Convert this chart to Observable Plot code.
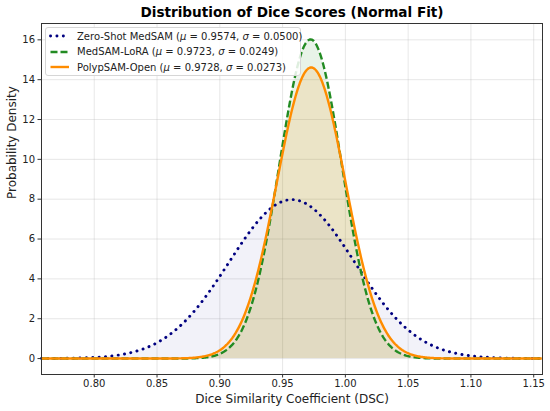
<!DOCTYPE html>
<html>
<head>
<meta charset="utf-8">
<script src="https://cdn.jsdelivr.net/npm/d3@7"></script>
<script src="https://cdn.jsdelivr.net/npm/@observablehq/plot@0.6"></script>
<style>
  html, body { margin: 0; padding: 0; background: #fff; }
  #wrap { position: relative; width: 550px; height: 411px; font-family: "DejaVu Sans", sans-serif; }
  #legend { position: absolute; left: 45px; top: 27px; width: 256px; height: 49px;
    background: rgba(255,255,255,0.85); border: 1px solid #d6d6d6; border-radius: 3px;
    box-sizing: border-box; font-size: 10px; color: #222; }
  .row { position: absolute; left: 0; height: 14px; display: flex; align-items: center; white-space: nowrap; }
  .row svg { margin-left: 3px; margin-right: 7px; }
</style>
</head>
<body>
<div id="wrap">
  <div id="chart"></div>
  <div id="legend"></div>
</div>
<script>
const names  = ["Zero-Shot MedSAM", "MedSAM-LoRA", "PolypSAM-Open"];
const mus    = [0.9574, 0.9723, 0.9728];
const sigmas = [0.0500, 0.0249, 0.0273];
const colors = ["#000080", "#228b22", "#ff8c00"];
const fillOpacities = [0.05, 0.10, 0.14];
const dashes = ["0.1,6.3", "7,3", null];
const caps = ["round", "butt", "butt"];
const widths = [2.9, 2.4, 2.4];
const xTicks = [0.80, 0.85, 0.90, 0.95, 1.00, 1.05, 1.10, 1.15];
const yTicks = [0, 2, 4, 6, 8, 10, 12, 14, 16];

const xDomain = [0.758, 1.157];
const xs = d3.range(xDomain[0], xDomain[1] + 1e-9, 0.0008);
const pdf = (x, m, s) => Math.exp(-0.5 * ((x - m) / s) ** 2) / (s * Math.sqrt(2 * Math.PI));
const series = names.map((name, i) => xs.map(x => ({name, x, y: pdf(x, mus[i], sigmas[i])})));

const marks = [
  Plot.gridX(xTicks, {stroke: "#b0b0b0", strokeOpacity: 0.3}),
  Plot.gridY(yTicks, {stroke: "#b0b0b0", strokeOpacity: 0.3}),
];
series.forEach((d, i) => marks.push(Plot.areaY(d, {x: "x", y1: 0, y2: "y", fill: colors[i], fillOpacity: fillOpacities[i]})));
series.forEach((d, i) => marks.push(Plot.lineY(d, {x: "x", y: "y", stroke: colors[i], strokeWidth: widths[i],
  strokeDasharray: dashes[i] || undefined, strokeLinecap: caps[i]})));
marks.push(
  Plot.frame({stroke: "#333", strokeWidth: 1}),
  Plot.axisX(xTicks, {tickFormat: d3.format(".2f"), tickSize: 3.5, tickPadding: 2, fontSize: 10, label: null, stroke: "#333", color: "#222"}),
  Plot.axisY(yTicks, {tickSize: 3.5, tickPadding: 3, fontSize: 10, label: null, stroke: "#333", color: "#222"}),
  Plot.text(["Distribution of Dice Scores (Normal Fit)"], {frameAnchor: "top", dy: -11, fontSize: 13.6, fontWeight: "bold", lineAnchor: "middle", fill: "#000"}),
  Plot.text(["Dice Similarity Coefficient (DSC)"], {frameAnchor: "bottom", dy: 25, fontSize: 12, lineAnchor: "middle", fill: "#222"}),
  Plot.text(["Probability Density"], {frameAnchor: "left", dx: -29, rotate: -90, fontSize: 12, lineAnchor: "middle", fill: "#222"})
);

const chart = Plot.plot({
  width: 550, height: 411,
  marginLeft: 41, marginRight: 8, marginTop: 23, marginBottom: 37,
  style: {fontFamily: "DejaVu Sans, sans-serif", background: "#fff", overflow: "visible"},
  x: {domain: xDomain},
  y: {domain: [-0.80, 16.82]},
  marks
});
document.getElementById("chart").appendChild(chart);

// Legend
const legend = document.getElementById("legend");
names.forEach((name, i) => {
  const row = document.createElement("div");
  row.className = "row";
  row.style.top = (1 + i * 15.5) + "px";
  const dash = dashes[i] ? `stroke-dasharray="${dashes[i]}"` : "";
  row.innerHTML = `<svg width="21" height="6"><line x1="1.5" y1="3" x2="20" y2="3" stroke="${colors[i]}" stroke-width="${widths[i]}" stroke-linecap="${caps[i]}" ${dash}/></svg>` +
    `<span>${name} (<i>μ</i> = ${mus[i].toFixed(4)}, <i>σ</i> = ${sigmas[i].toFixed(4)})</span>`;
  legend.appendChild(row);
});
</script>
</body>
</html>
